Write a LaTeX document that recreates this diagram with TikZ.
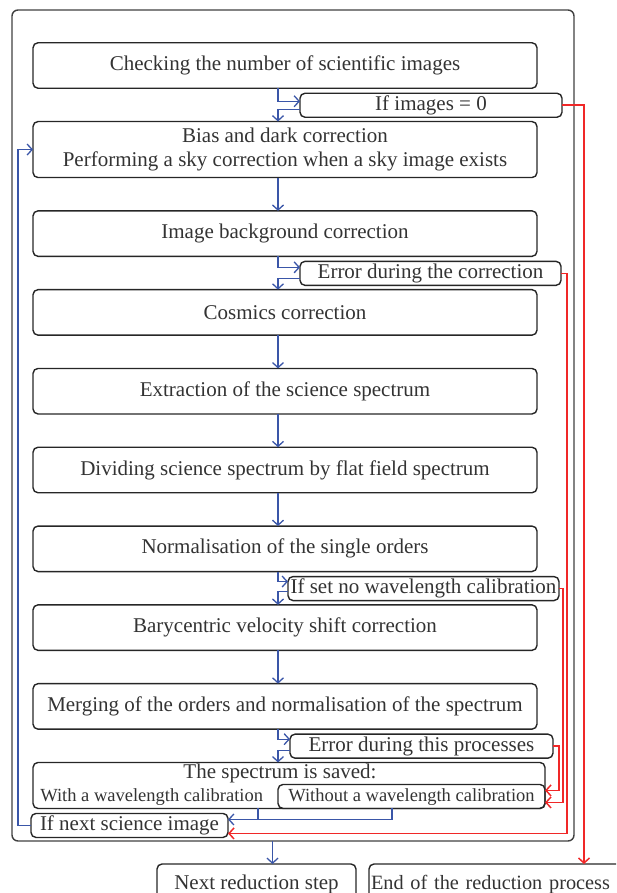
\documentclass[tikz,border=0pt]{standalone}
\usepackage{fontspec}
\setmainfont{Liberation Serif}
\usepackage{xcolor}
\usepackage{tikz}
\usetikzlibrary{positioning,arrows.meta}

\definecolor{flowblue}{RGB}{58,86,168}
\definecolor{flowred}{RGB}{240,40,40}

\begin{document}
\begin{tikzpicture}[x=1pt,y=-1pt,
  node distance=33.3pt,
  every node/.style={text=black!80,outer sep=0pt,font=\fontsize{21}{24}\selectfont},
  stepbox/.style={draw=black!85,line width=1.4pt,rounded corners=5pt,minimum width=504pt,minimum height=45.5pt,inner sep=2pt},
  cond/.style={draw=black!85,line width=1.4pt,rounded corners=5pt,minimum height=24pt,inner sep=2pt,text height=14pt,text depth=4pt},
  small/.style={font=\fontsize{18.5}{20}\selectfont},
  bline/.style={draw=flowblue,line width=1.3pt},
  bflow/.style={bline,-{Straight Barb[length=5pt,width=11pt]}},
  rflow/.style={draw=flowred,line width=1.5pt,-{Straight Barb[length=5pt,width=11pt]}}
]
\path[use as bounding box] (0,0) rectangle (616,893);
\clip (0,0) rectangle (616,893);

% whole reduction of one science frame
\node[draw=black!75,line width=1.4pt,rounded corners=6pt,minimum width=562pt,minimum height=831pt,inner sep=0pt] (proc) at (293,425.5) {};

\node[stepbox] (b1) at (285,65.5) {Checking the number of scientific images};
\node[stepbox,below=of b1,minimum height=56pt,align=center] (b2) {Bias and dark correction\\Performing a sky correction when a sky image exists};
\node[stepbox,below=of b2] (b3) {Image background correction};
\node[stepbox,below=of b3] (b4) {Cosmics correction};
\node[stepbox,below=of b4] (b5) {Extraction of the science spectrum};
\node[stepbox,below=of b5] (b6) {Dividing science spectrum by flat field spectrum};
\node[stepbox,below=of b6] (b7) {Normalisation of the single orders};
\node[stepbox,below=of b7] (b8) {Barycentric velocity shift correction};
\node[stepbox,below=of b8] (b9) {Merging of the orders and normalisation of the spectrum};
\node[stepbox,below=of b9,minimum width=512pt,minimum height=46pt,xshift=4pt] (saved) {};
\node[anchor=north,inner sep=1pt] (savedtitle) at ([xshift=-9pt]saved.north) {The spectrum is saved:};
\node[cond,small,anchor=south east,minimum width=267pt] (wo) at (saved.south east) {Without a wavelength calibration};
\node[small,anchor=base west] (wi) at ([xshift=4pt]saved.west |- wo.base) {With a wavelength calibration};
\node[cond,below=5pt of saved.south west,anchor=north west,xshift=-2pt,minimum width=197pt] (again) {If next science image};

% side conditions
\node[cond,below=5pt of b1,xshift=146pt,minimum width=262pt] (c1) {If images = 0};
\node[cond,below=5pt of b3,xshift=145.5pt,minimum width=261pt] (c2) {Error during the correction};
\node[cond,below=5pt of b7,xshift=138.5pt,minimum width=271pt] (c3) {If set no wavelength calibration};
\node[cond,below=5pt of b9,xshift=136.5pt,minimum width=263pt] (c4) {Error during this processes};

\node[cond,anchor=north west,minimum width=199pt,minimum height=40pt] (nextstep) at (157,864) {Next reduction step};
\node[cond,anchor=north west,minimum height=40pt,text width=252pt,font=\fontsize{20.3}{24}\selectfont] (stop) at (369,864) {End of the reduction process};

\coordinate (axis) at (278,0);
\draw[bflow] (b1.south -| axis) |- ([yshift=4pt]c1.west);
\draw[bflow] ([yshift=-4pt]c1.west) -| (b2.north -| axis);
\draw[bflow] (b2.south -| axis) -- (b3.north -| axis);
\draw[bflow] (b3.south -| axis) |- ([yshift=6pt]c2.west);
\draw[bflow] ([yshift=-5pt]c2.west) -| (b4.north -| axis);
\draw[bflow] (b4.south -| axis) -- (b5.north -| axis);
\draw[bflow] (b5.south -| axis) -- (b6.north -| axis);
\draw[bflow] (b6.south -| axis) -- (b7.north -| axis);
\draw[bflow] (b7.south -| axis) |- ([yshift=7pt]c3.west);
\draw[bflow] ([yshift=-3pt]c3.west) -| (b8.north -| axis);
\draw[bflow] (b8.south -| axis) -- (b9.north -| axis);
\draw[bflow] (b9.south -| axis) |- ([yshift=7pt]c4.west);
\draw[bflow] ([yshift=-4pt]c4.west) -| (saved.north -| axis);

\draw[bline] ([xshift=-31pt]saved.south) -- ++(0pt,-11pt);
\draw[bflow] ([xshift=-19.5pt]wo.south) |- ([yshift=6pt]again.east);
\draw[bflow] (again.west) -- ++(-13pt,0pt) |- (b2.west);
\draw[bflow] ([xshift=16pt]nextstep.north |- proc.south) -- ([xshift=16pt]nextstep.north);

\draw[rflow] (c1.east) -| (584,864);
\draw[rflow] (c2.east) -- ++(6pt,0pt) |- ([yshift=-8pt]again.east);
\draw[rflow] (c3.east) -- ++(4pt,0pt) |- ([yshift=-6pt]wo.east);
\draw[rflow] (c4.east) -- ++(6pt,0pt) |- ([yshift=6pt]wo.east);
\end{tikzpicture}
\end{document}
